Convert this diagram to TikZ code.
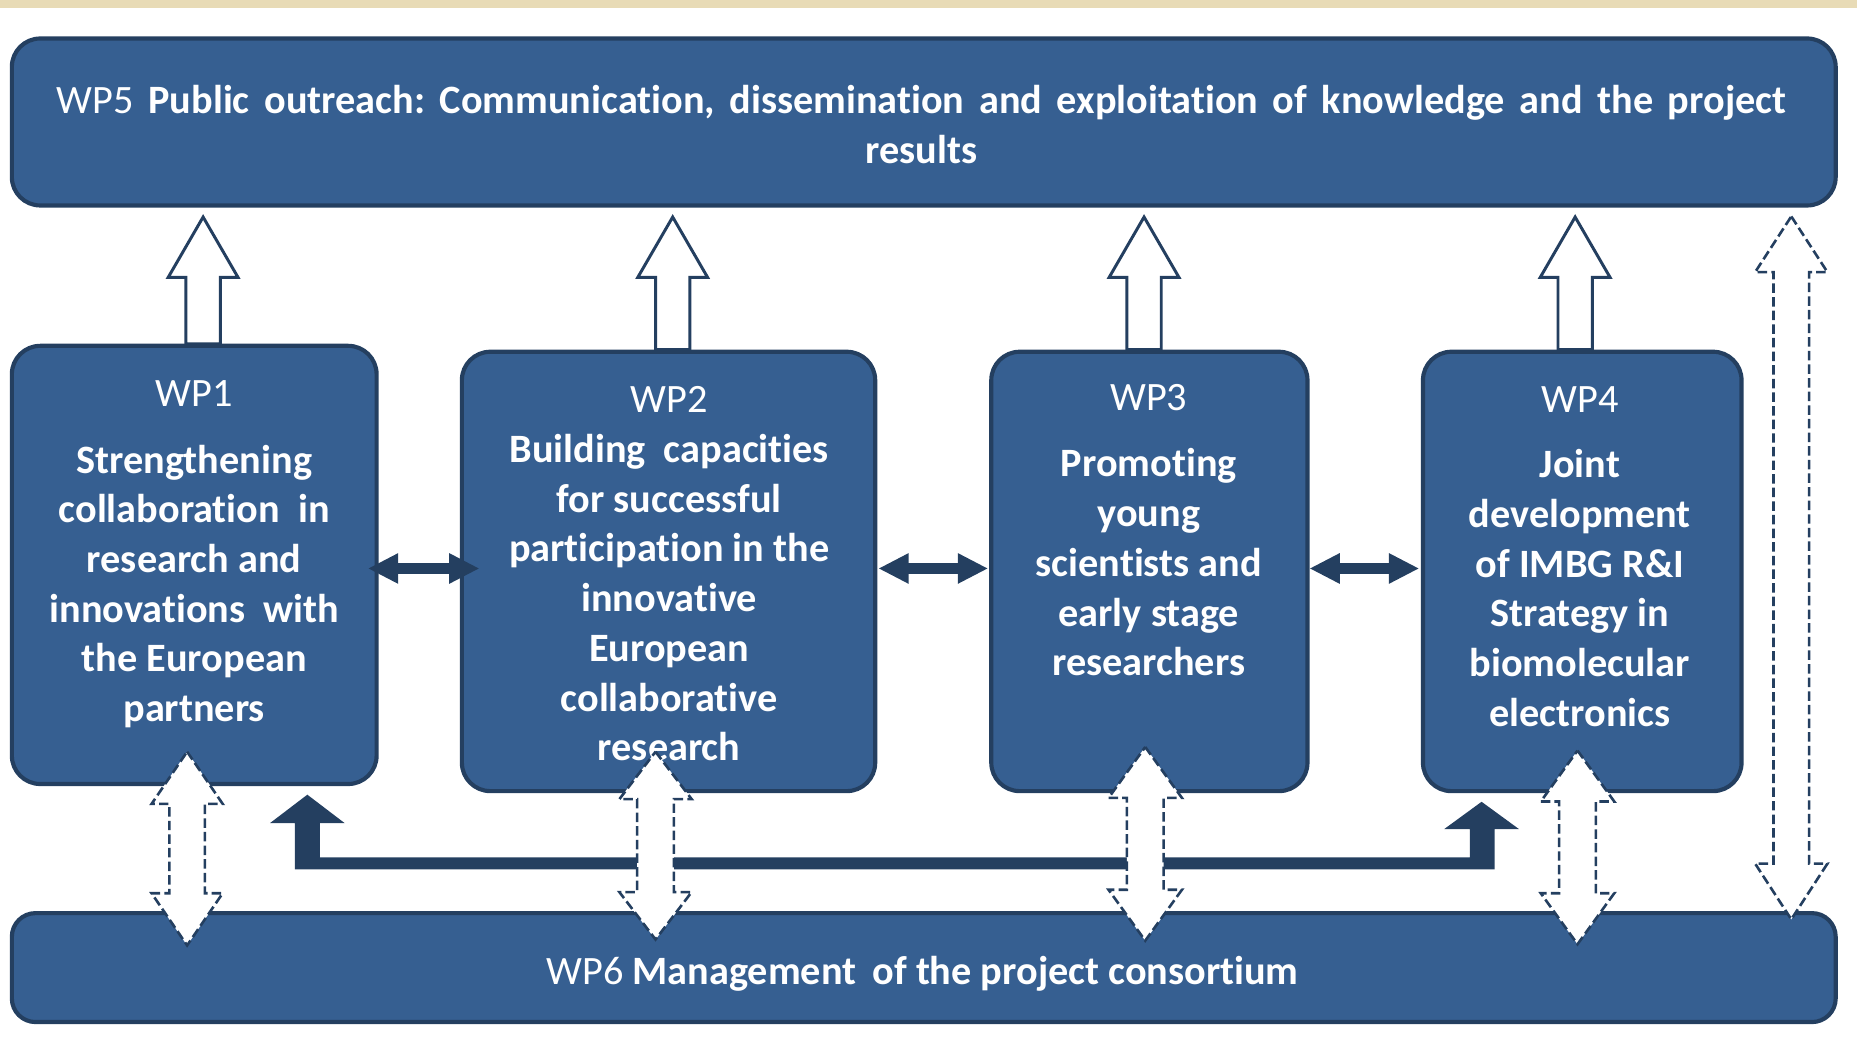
\documentclass[tikz,border=0pt]{standalone}
\usepackage{fontspec}
\setmainfont{Carlito}[Ligatures=NoCommon]
\usetikzlibrary{calc}
\definecolor{boxfill}{RGB}{54,95,145}
\definecolor{boxline}{RGB}{36,63,96}
\definecolor{beigestrip}{RGB}{232,219,182}

\newcommand\upblock[2]{% #1 bottom point, #2 tip point
  \draw[hollow] ($(#1)+(-14.5,0)$) -- ($(#2)+(-14.5,51)$) -- ($(#2)+(-29.5,51)$) -- (#2)
    -- ($(#2)+(29.5,51)$) -- ($(#2)+(14.5,51)$) -- ($(#1)+(14.5,0)$) -- cycle;}
\newcommand\dblblock[5]{% #1 top tip, #2 bottom tip, #3 half shaft, #4 half head, #5 head length
  \draw[dashedarrow] (#1) -- ($(#1)+(#4,#5)$) -- ($(#1)+(#3,#5)$) -- ($(#2)+(#3,-#5)$)
    -- ($(#2)+(#4,-#5)$) -- (#2) -- ($(#2)+(-#4,-#5)$) -- ($(#2)+(-#3,-#5)$)
    -- ($(#1)+(-#3,#5)$) -- ($(#1)+(-#4,#5)$) -- cycle;}
\newcommand\hdbl[2]{% #1 left tip, #2 right tip
  \fill[boxline] (#1) -- ($(#1)+(25,-13)$) -- ($(#1)+(25,-4.5)$) -- ($(#2)+(-25,-4.5)$)
    -- ($(#2)+(-25,-13)$) -- (#2) -- ($(#2)+(-25,13)$) -- ($(#2)+(-25,4.5)$)
    -- ($(#1)+(25,4.5)$) -- ($(#1)+(25,13)$) -- cycle;}

\begin{document}
\frenchspacing
\begin{tikzpicture}[x=1pt,y=-1pt,
  wpbox/.style={draw=boxline, fill=boxfill, line width=3.5pt, rounded corners=24pt, inner sep=0pt},
  wptext/.style={text=white, align=center, font=\fontsize{34}{42}\selectfont\bfseries, inner sep=0pt},
  wplabel/.style={text=white, font=\fontsize{34}{42}\selectfont, inner sep=0pt, anchor=base},
  hollow/.style={draw=boxline, fill=white, line width=2.5pt, line join=miter},
  dashedarrow/.style={draw=boxline, fill=white, line width=2.2pt, dash pattern=on 8pt off 3.5pt, line join=miter},
]
\useasboundingbox (0,0) rectangle (1568,879.8);
\fill[beigestrip] (0,0) rectangle (1568,6.5);

% boxes
\node[wpbox, minimum width=1540pt, minimum height=141pt] (wp5) at (780,103) {};
\node[wpbox, minimum width=308pt, minimum height=370pt] (wp1) at (164,477) {};
\node[wpbox, minimum width=349pt, minimum height=371pt] (wp2) at (564.5,482.5) {};
\node[wpbox, minimum width=267pt, minimum height=371pt] (wp3) at (970.5,482.5) {};
\node[wpbox, minimum width=269pt, minimum height=371pt] (wp4) at (1336,482.5) {};
\node[wpbox, minimum width=1540pt, minimum height=92pt, rounded corners=20pt] (wp6) at (780,817) {};

% texts
\node[wptext, font=\fontsize{34}{42}\selectfont] (wp5t) at (778,108.6)
  {\strut\makebox[1460pt][s]{WP5 \textbf{Public outreach: Communication, dissemination and exploitation of knowledge and the project}}\\
   \strut\textbf{results}};
\node[wplabel] (wp1l) at (164,343) {WP1};
\node[wptext] (wp1t) at (164,496) {\strut Strengthening\\ \strut collaboration\ \ in\\ \strut research and\\ \strut innovations\ \ with\\ \strut the European\\ \strut partners};
\node[wplabel] (wp2l) at (565,348.5) {WP2};
\node[wptext] (wp2t) at (565,508) {\strut Building\ \ capacities\\ \strut for successful\\ \strut participation in the\\ \strut innovative\\ \strut European\\ \strut collaborative\\ \strut research};
\node[wplabel] (wp3l) at (970,347) {WP3};
\node[wptext] (wp3t) at (970,478.3) {\strut Promoting\\ \strut young\\ \strut scientists and\\ \strut early stage\\ \strut researchers};
\node[wplabel] (wp4l) at (1334,348) {WP4};
\node[wptext] (wp4t) at (1334,500) {\strut Joint\\ \strut development\\ \strut of IMBG R\&I\\ \strut Strategy in\\ \strut biomolecular\\ \strut electronics};
\node[wplabel] (wp6t) at (779,831.5) {WP6 \textbf{Management\hspace{0.4em}of the project consortium}};

% hollow arrows up to WP5
\coordinate (u1) at (171.5,0);
\coordinate (u2) at (568,0);
\coordinate (u3) at (966,0);
\coordinate (u4) at (1330,0);
\upblock{u1 |- wp1.north}{$(u1 |- wp5.south)+(0,8)$}
\upblock{u2 |- wp2.north}{$(u2 |- wp5.south)+(0,8)$}
\upblock{u3 |- wp3.north}{$(u3 |- wp5.south)+(0,8)$}
\upblock{u4 |- wp4.north}{$(u4 |- wp5.south)+(0,8)$}

% horizontal double arrows between work packages
\coordinate (hy) at (0,480);
\hdbl{$(wp1.east |- hy)+(-8.5,0)$}{$(wp2.west |- hy)+(16,0)$}
\hdbl{$(wp2.east |- hy)+(1.5,0)$}{$(wp3.west |- hy)+(-1.5,0)$}
\hdbl{$(wp3.east |- hy)+(0.5,0)$}{$(wp4.west |- hy)+(-2,0)$}

% thick feedback connector
\coordinate (fl) at (249,734);
\coordinate (fr) at (1262,734);
\fill[boxline] (fl) -- ++(0,-39) -- ++(-21,0) -- ++(31.5,-24) -- ++(31.5,24) -- ++(-21,0)
  -- ++(0,29) -- ($(fr)+(-21,-10)$) -- ($(fr)+(-21,-34)$) -- ($(fr)+(-42.5,-34)$)
  -- ($(fr)+(-11,-57)$) -- ($(fr)+(20.5,-34)$) -- ($(fr)+(0,-34)$) -- (fr) -- cycle;

% dashed double arrows to WP6
\coordinate (d1) at (158,0);
\coordinate (d2) at (553.5,0);
\coordinate (d3) at (967,0);
\coordinate (d4) at (1332,0);
\dblblock{$(d1 |- wp1.south)+(0,-29)$}{$(d1 |- wp6.north)+(0,29)$}{15}{30}{44}
\dblblock{$(d2 |- wp2.south)+(0,-35)$}{$(d2 |- wp6.north)+(0,24)$}{15.5}{30.5}{40}
\dblblock{$(d3 |- wp3.south)+(0,-39)$}{$(d3 |- wp6.north)+(0,25)$}{15.5}{31}{43}
\dblblock{$(d4 |- wp4.south)+(0,-36)$}{$(d4 |- wp6.north)+(0,28)$}{15.5}{31}{43}
% long dashed double arrow WP5 <-> WP6
\coordinate (d5) at (1512.5,0);
\dblblock{$(d5 |- wp5.south)+(0,7.5)$}{$(d5 |- wp6.north)+(0,7)$}{15}{30.5}{47}
\end{tikzpicture}
\end{document}
